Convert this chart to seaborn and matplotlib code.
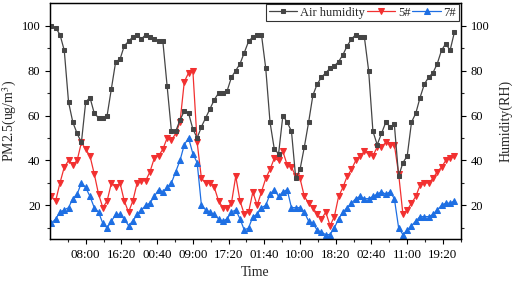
import numpy as np
import pandas as pd
import matplotlib
matplotlib.use("Agg")
import matplotlib.pyplot as plt
import seaborn as sns

# sampling times (hours from 00:00 of day 1), hourly readings
hours = list(range(95))

humidity = [100, 99, 96, 89, 66, 57, 52, 48, 66, 68,
            61, 59, 59, 60, 72, 84, 85, 91, 93, 95,
            96, 94, 96, 95, 94, 93, 93, 73, 53, 53,
            58, 62, 61, 54, 50, 55, 59, 63, 67, 70,
            70, 71, 77, 80, 83, 88, 93, 95, 96, 96,
            81, 57, 45, 43, 60, 57, 53, 32, 36, 46,
            57, 69, 74, 77, 79, 81, 82, 84, 87, 91,
            94, 96, 95, 95, 80, 53, 47, 52, 57, 55,
            56, 33, 39, 42, 57, 61, 68, 74, 77, 79,
            83, 89, 92, 89, 97]

pm_5 = [24, 22, 30, 37, 40, 38, 40, 48, 45, 42,
        34, 25, 19, 22, 30, 28, 30, 22, 17, 22,
        30, 31, 31, 35, 41, 42, 45, 50, 49, 52,
        57, 75, 79, 80, 48, 32, 30, 30, 28, 22,
        19, 19, 21, 33, 22, 16, 17, 26, 20, 26,
        32, 36, 41, 40, 44, 38, 37, 33, 32, 24,
        21, 19, 16, 14, 17, 11, 15, 24, 28, 33,
        36, 40, 42, 44, 43, 42, 46, 46, 48, 47,
        47, 34, 16, 18, 21, 24, 29, 30, 30, 32,
        35, 37, 40, 41, 42]

pm_7 = [12, 14, 17, 18, 19, 23, 25, 30, 28, 24,
        19, 17, 12, 10, 13, 16, 16, 14, 11, 13,
        16, 18, 20, 21, 24, 27, 26, 28, 30, 35,
        40, 47, 50, 43, 39, 20, 18, 17, 16, 14,
        13, 14, 17, 18, 14, 9, 10, 15, 16, 19,
        20, 25, 27, 24, 26, 27, 19, 19, 19, 17,
        13, 12, 9, 8, 7, 7, 10, 14, 17, 19,
        21, 23, 24, 23, 23, 24, 25, 26, 25, 26,
        23, 10, 7, 9, 11, 13, 15, 15, 15, 16,
        18, 20, 21, 21, 22]

tick_minutes = [480, 980, 1480, 1980, 2480, 2980, 3480, 3980, 4480, 4980, 5480]
tick_labels = ["08:00", "16:20", "00:40", "09:00", "17:20", "01:40",
               "10:00", "18:20", "02:40", "11:00", "19:20"]

df = pd.DataFrame({"minute": np.array(hours) * 60, "hum": humidity,
                   "pm5": pm_5, "pm7": pm_7})

sns.set_style("ticks")
plt.rcParams["font.family"] = ["Liberation Serif", "DejaVu Serif"]
plt.rcParams["mathtext.fontset"] = "stix"
plt.rcParams["xtick.direction"] = "out"
plt.rcParams["ytick.direction"] = "out"

fig = plt.figure(figsize=(5.12, 2.85), dpi=100)
ax = fig.add_axes([0.098, 0.161, 0.802, 0.828])
ax2 = ax.twinx()

c_hum, c_red, c_blue = "#454545", "#f23030", "#1e6fe3"

sns.lineplot(data=df, x="minute", y="pm5", ax=ax, color=c_red, marker="v",
             markersize=3.8, markeredgecolor=c_red, linewidth=0.9, label="5#")
sns.lineplot(data=df, x="minute", y="pm7", ax=ax, color=c_blue, marker="^",
             markersize=3.8, markeredgecolor=c_blue, linewidth=0.9, label="7#")
sns.lineplot(data=df, x="minute", y="hum", ax=ax2, color=c_hum, marker="s",
             markersize=3.3, markeredgecolor=c_hum, linewidth=0.9, label="Air humidity")

for a in (ax, ax2):
    if a.get_legend():
        a.get_legend().remove()
    a.set_ylim(5, 110)
    a.set_yticks([20, 40, 60, 80, 100])
    a.set_yticks([10, 30, 50, 70, 90], minor=True)
    a.tick_params(labelsize=9, length=3.5, width=0.8, colors="black")
    a.tick_params(which="minor", length=2, width=0.8)
    for s in a.spines.values():
        s.set_linewidth(0.9)
        s.set_color("black")

ax.set_xlim(-17, 5660)
ax.set_xticks(tick_minutes)
ax.set_xticklabels(tick_labels, fontsize=9.3)
ax.set_xticks([m - 250 for m in tick_minutes] + [tick_minutes[-1] + 250], minor=True)
ax.set_xlabel("Time", fontsize=10)
ax.set_ylabel("PM2.5(ug/m$^3$)", fontsize=10, labelpad=2)
ax2.set_ylabel("Humidity(RH)", fontsize=10, labelpad=7)

h1, l1 = ax.get_legend_handles_labels()
h2, l2 = ax2.get_legend_handles_labels()
leg = ax2.legend(h2 + h1, l2 + l1, ncol=3, loc="upper right",
                 bbox_to_anchor=(0.995, 0.995), fontsize=9, frameon=True,
                 fancybox=False, edgecolor="black", handlelength=2.3,
                 handletextpad=0.2, columnspacing=0.15, borderpad=0.2,
                 borderaxespad=0.0)
leg.get_frame().set_linewidth(0.8)

fig.savefig("out.png", dpi=100)
